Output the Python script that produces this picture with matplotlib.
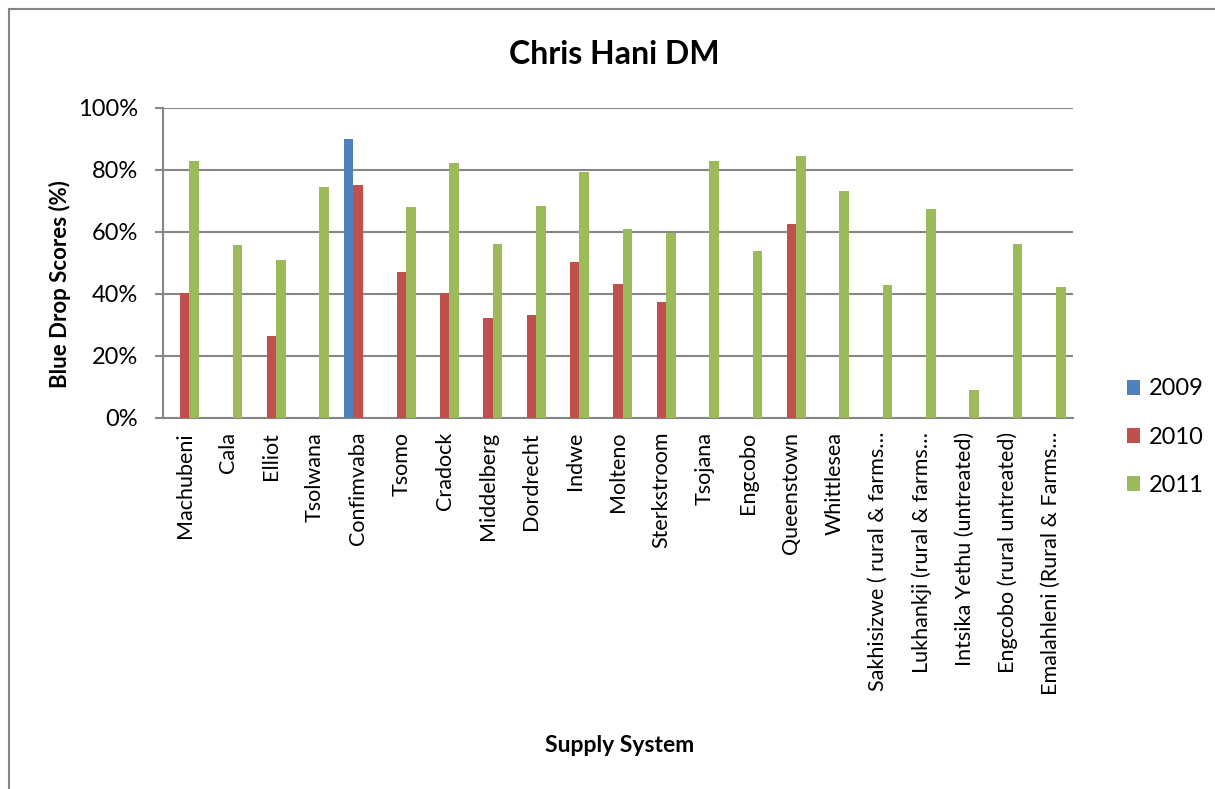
import numpy as np
import matplotlib.pyplot as plt
from matplotlib.patches import Rectangle, Patch

systems = ['Machubeni', 'Cala', 'Elliot', 'Tsolwana', 'Confimvaba', 'Tsomo', 'Cradock',
           'Middelberg', 'Dordrecht', 'Indwe', 'Molteno', 'Sterkstroom', 'Tsojana', 'Engcobo',
           'Queenstown', 'Whittlesea', 'Sakhisizwe ( rural & farms…', 'Lukhankji (rural & farms…',
           'Intsika Yethu (untreated)', 'Engcobo (rural untreated)', 'Emalahleni (Rural & Farms…']

score_2009 = [0, 0, 0, 0, 89.9, 0, 0, 0, 0, 0, 0, 0, 0, 0, 0, 0, 0, 0, 0, 0, 0]
score_2010 = [40.2, 0, 26.6, 0, 75.1, 47.2, 40.2, 32.2, 33.3, 50.4, 43.3, 37.3, 0, 0,
              62.5, 0, 0, 0, 0, 0, 0]
score_2011 = [82.9, 55.7, 51.1, 74.6, 0, 68.1, 82.4, 56.1, 68.5, 79.4, 60.9, 59.8, 82.8,
              54.0, 84.4, 73.2, 42.8, 67.4, 9.1, 56.0, 42.2]
years = ['2009', '2010', '2011']
colors = ['#4F81BD', '#C0504D', '#9BBB59']

plt.rcParams['font.family'] = ['Lato', 'DejaVu Sans']

fig = plt.figure(figsize=(12.15, 7.89), dpi=100)
ax = fig.add_axes([163 / 1215, 1 - 418 / 789, (1073 - 163) / 1215, 310 / 789])

x = np.arange(len(systems))
w = 1 / 4.5
for i, (vals, c) in enumerate(zip([score_2009, score_2010, score_2011], colors)):
    ax.bar(x + (i - 1) * w, vals, width=w, color=c, zorder=3)

ax.set_xlim(-0.5, len(systems) - 0.5)
ax.set_ylim(0, 100)
ax.set_yticks(np.arange(0, 101, 20))
ax.set_yticklabels(['%d%%' % v for v in range(0, 101, 20)], fontsize=17)
ax.yaxis.grid(True, color='#868686', linewidth=1.5, zorder=0)
ax.set_xticks(x)
ax.set_xticklabels(systems, rotation=90, fontsize=15.5)
ax.tick_params(axis='x', length=0, pad=10)
ax.tick_params(axis='y', length=6, color='#868686', width=1.5, pad=12)
for s in ['top', 'right']:
    ax.spines[s].set_visible(False)
for s in ['left', 'bottom']:
    ax.spines[s].set_color('#868686')
    ax.spines[s].set_linewidth(1.5)

fig.text(614 / 1215, 1 - 55 / 789, 'Chris Hani DM', ha='center', va='center',
         fontsize=23, fontweight='bold')
fig.text(60 / 1215, 1 - 284 / 789, 'Blue Drop Scores (%)', ha='center', va='center',
         rotation=90, fontsize=16, fontweight='bold')
fig.text(620 / 1215, 1 - 745 / 789, 'Supply System', ha='center', va='center',
         fontsize=16.5, fontweight='bold')

handles = [Patch(facecolor=c) for c in colors]
fig.legend(handles, years, loc='center left', bbox_to_anchor=(1106 / 1215, 1 - 437 / 789),
           frameon=False, fontsize=17, handlelength=0.55, handleheight=0.6,
           handletextpad=0.35, labelspacing=1.15)

fig.add_artist(Rectangle((8.5 / 1215, -0.05), 1.1, 1.05 - 9 / 789, transform=fig.transFigure,
                         fill=False, edgecolor='#868686', linewidth=1.5))

fig.savefig('out.png', dpi=100)
